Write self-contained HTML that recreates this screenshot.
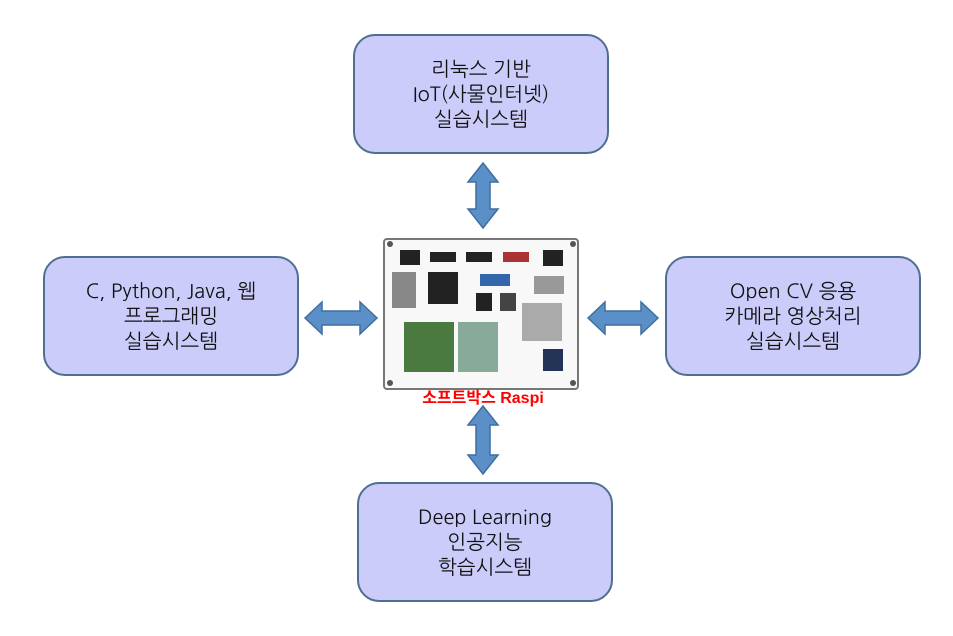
<!DOCTYPE html>
<html><head><meta charset="utf-8"><style>
body{margin:0;width:953px;height:636px;background:#fff;position:relative;overflow:hidden;font-family:"NanumGothic","Liberation Sans","Noto Sans CJK KR",sans-serif}
.b{position:absolute;box-sizing:border-box;background:#ccccfb;border:2px solid #4f6f90;border-radius:22px;display:flex;align-items:center;justify-content:center;text-align:center;font-size:20px;line-height:25px;color:#111}
.lab{position:absolute;left:383px;top:384px;width:200px;text-align:center;color:#f00;font-weight:bold;font-size:16px;font-family:"Liberation Sans","Noto Sans CJK KR",sans-serif}
</style></head><body>
<div class="b" style="left:353px;top:34px;width:256px;height:120px">리눅스 기반<br>IoT(사물인터넷)<br>실습시스템</div>
<div class="b" style="left:43px;top:256px;width:256px;height:120px">C, Python, Java, 웹<br>프로그래밍<br>실습시스템</div>
<div class="b" style="left:665px;top:256px;width:256px;height:120px">Open CV 응용<br>카메라 영상처리<br>실습시스템</div>
<div class="b" style="left:357px;top:482px;width:256px;height:120px">Deep Learning<br>인공지능<br>학습시스템</div>
<svg width="953" height="636" style="position:absolute;left:0;top:0">
<g fill="#5b8fc8" stroke="#3f6f9f" stroke-width="1.5">
<polygon points="483,163 498,182 490,182 490,209 498,209 483,228 468,209 476,209 476,182 468,182"/>
<polygon points="483,406 498,425 490,425 490,455 498,455 483,474 468,455 476,455 476,425 468,425"/>
<polygon points="305,318 322,302 322,311 360,311 360,302 377,318 360,334 360,325 322,325 322,334"/>
<polygon points="588,318 605,302 605,311 641,311 641,302 658,318 641,334 641,325 605,325 605,334"/>
</g>
<rect x="384" y="239" width="194" height="150" rx="3" fill="#f8f8f8" stroke="#777" stroke-width="2"/>
<g fill="#222">
<rect x="400" y="250" width="20" height="15"/><rect x="430" y="252" width="26" height="10"/><rect x="466" y="252" width="26" height="10"/><rect x="503" y="252" width="26" height="10" fill="#a33"/><rect x="543" y="250" width="20" height="16"/>
<rect x="392" y="272" width="24" height="36" fill="#888"/><rect x="428" y="272" width="30" height="32"/><rect x="480" y="274" width="30" height="12" fill="#36a"/><rect x="534" y="276" width="30" height="18" fill="#999"/>
<rect x="476" y="293" width="16" height="18"/><rect x="500" y="293" width="16" height="18" fill="#444"/><rect x="522" y="303" width="40" height="38" fill="#aaa"/>
<rect x="404" y="322" width="50" height="50" fill="#4a7a40"/><rect x="458" y="322" width="40" height="50" fill="#8a9"/><rect x="543" y="349" width="20" height="22" fill="#235"/>
</g>
<g fill="#555"><circle cx="390" cy="244" r="3"/><circle cx="573" cy="244" r="3"/><circle cx="390" cy="383" r="3"/><circle cx="573" cy="383" r="3"/></g>
</svg>
<div class="lab">소프트박스 Raspi</div>
</body></html>
